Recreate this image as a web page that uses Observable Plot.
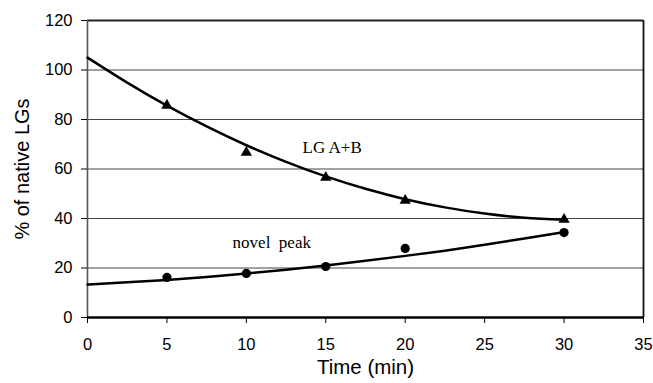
<!DOCTYPE html>
<html><head><meta charset="utf-8">
<script src="https://cdn.jsdelivr.net/npm/d3@7"></script>
<script src="https://cdn.jsdelivr.net/npm/@observablehq/plot@0.6"></script>
<style>body{margin:0;background:#fff}</style>
</head><body><div id="chart"></div>
<script>
// measured points
const times = [5, 10, 15, 20, 30];
const lgAB = [85.7, 66.7, 56.6, 47.3, 39.6];
const novelPeak = [16.2, 17.8, 20.6, 27.9, 34.3];
// trend lines
const trendTimes = [0, 2.5, 5, 7.5, 10, 12.5, 15, 17.5, 20, 22.5, 25, 27.5, 30];
const lgABTrend = [105, 94.9, 85.6, 77.2, 69.6, 62.9, 57.0, 52.0, 47.8, 44.5, 42.0, 40.3, 39.5];
const novelTrend = [13.3, 14.2, 15.2, 16.4, 17.8, 19.3, 21.0, 22.9, 24.9, 27.0, 29.4, 31.9, 34.5];
// ticks & labels
const xTicks = [0, 5, 10, 15, 20, 25, 30, 35];
const yTicks = [0, 20, 40, 60, 80, 100, 120];
const gridValues = [20, 40, 60, 80, 100];
const xTitle = "Time (min)";
const yTitle = "% of native LGs";
const seriesLabels = [
  {name: "LG A+B", t: 15.4, v: 68.8},
  {name: "novel  peak", t: 11.6, v: 30.2}
];

const ptsA = times.map((t, i) => ({t, v: lgAB[i]}));
const ptsN = times.map((t, i) => ({t, v: novelPeak[i]}));
const trA = trendTimes.map((t, i) => ({t, v: lgABTrend[i]}));
const trN = trendTimes.map((t, i) => ({t, v: novelTrend[i]}));

const sans = "'Liberation Sans', Arial, sans-serif";
const chart = Plot.plot({
  width: 653, height: 383,
  marginLeft: 87, marginRight: 10, marginTop: 20, marginBottom: 66,
  style: {fontFamily: sans, fontSize: "16px", color: "#000", background: "#fff"},
  x: {domain: [0, 35]},
  y: {domain: [0, 120]},
  marks: [
    Plot.ruleY(gridValues, {stroke: "#444", strokeWidth: 1}),
    Plot.ruleY([120], {stroke: "#222", strokeWidth: 2}),
    Plot.ruleX([35], {stroke: "#111", strokeWidth: 1.8}),
    Plot.ruleX([0], {stroke: "#555", strokeWidth: 1.6}),
    Plot.ruleY([0], {stroke: "#000", strokeWidth: 2.5}),
    Plot.axisX({ticks: xTicks, tickSize: 6, tickPadding: 15, tickFormat: d => d, label: null, fontSize: 16.5}),
    Plot.axisY({ticks: yTicks, tickSize: 6, tickPadding: 9, tickFormat: d => d, label: null, fontSize: 16.5}),
    Plot.line(trA, {x: "t", y: "v", curve: "natural", stroke: "#000", strokeWidth: 2.5}),
    Plot.line(trN, {x: "t", y: "v", curve: "natural", stroke: "#000", strokeWidth: 2.5}),
    Plot.dot(ptsA, {x: "t", y: "v", symbol: "triangle", r: 4.2, fill: "#000"}),
    Plot.dot(ptsN, {x: "t", y: "v", symbol: "circle", r: 4.6, fill: "#000"}),
    Plot.text(seriesLabels, {x: "t", y: "v", text: "name", fontFamily: "'Liberation Serif', 'Times New Roman', serif", fontSize: 17, fill: "#000"}),
    Plot.text([xTitle], {frameAnchor: "bottom", textAnchor: "middle", dy: 56, text: d => d, fontSize: 20.5, fill: "#000"}),
    Plot.text([yTitle], {frameAnchor: "left", textAnchor: "middle", dx: -65, rotate: -90, text: d => d, fontSize: 20, fill: "#000"})
  ]
});
document.getElementById("chart").appendChild(chart);
</script>
</body></html>
